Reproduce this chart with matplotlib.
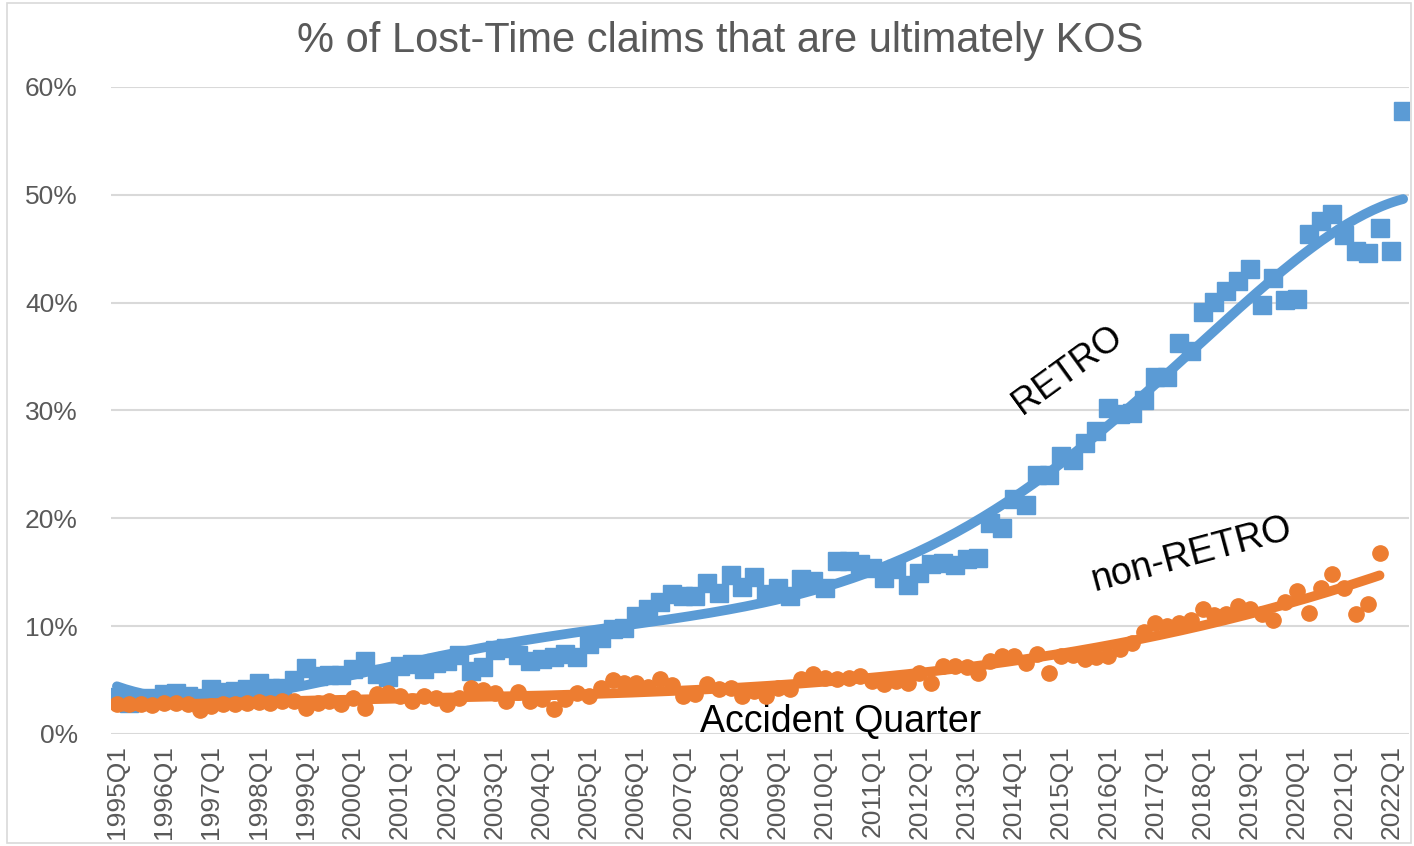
import numpy as np
import matplotlib
matplotlib.use("Agg")
import matplotlib.pyplot as plt
from matplotlib.patches import Rectangle
from numpy.polynomial import Polynomial

plt.rcParams['font.family'] = ['Liberation Sans', 'DejaVu Sans']

# quarters 1995Q1 .. 2022Q2
quarters = [f"{y}Q{q}" for y in range(1995, 2023) for q in range(1, 5)][:110]

retro = [3.4, 2.9, 3.1, 3.3, 3.7, 3.8, 3.5, 3.3, 4.2, 3.9, 4.0, 4.2, 4.7, 4.3, 4.3, 5.0,
         6.1, 5.4, 5.5, 5.5, 6.0, 6.8, 5.6, 5.3, 6.3, 6.5, 6.0, 6.6, 6.8, 7.3, 5.8, 6.2,
         7.8, 8.0, 7.3, 6.8, 7.0, 7.1, 7.4, 7.1, 8.3, 8.9, 9.7, 9.8, 10.9, 11.6, 12.2, 13.0,
         12.8, 12.8, 14.0, 13.1, 14.7, 13.6, 14.6, 13.0, 13.5, 12.8, 14.4, 14.2, 13.5, 16.0,
         16.0, 15.8, 15.4, 14.5, 15.3, 13.8, 14.9, 15.8, 15.9, 15.7, 16.2, 16.3, 19.6, 19.1,
         21.8, 21.2, 24.0, 24.0, 25.8, 25.4, 27.0, 28.1, 30.2, 29.7, 29.8, 31.0, 33.1, 33.1,
         36.3, 35.5, 39.1, 40.1, 41.1, 42.0, 43.1, 39.8, 42.3, 40.2, 40.3, 46.4, 47.6, 48.2,
         46.3, 44.8, 44.6, 46.9, 44.8, 57.8]

non_retro = [2.8, 2.8, 2.8, 2.7, 2.9, 2.9, 2.8, 2.2, 2.6, 2.8, 2.8, 2.9, 3.0, 2.9, 3.1, 3.1,
             2.4, 2.9, 3.1, 2.8, 3.3, 2.4, 3.7, 3.8, 3.5, 3.1, 3.5, 3.3, 2.8, 3.3, 4.3, 4.1,
             3.8, 3.1, 3.9, 3.1, 3.2, 2.3, 3.2, 3.8, 3.5, 4.3, 5.0, 4.7, 4.7, 4.4, 5.1, 4.5,
             3.5, 3.7, 4.6, 4.2, 4.3, 3.5, 4.0, 3.5, 4.3, 4.2, 5.1, 5.6, 5.2, 5.1, 5.2, 5.4,
             4.9, 4.6, 4.9, 4.7, 5.7, 4.7, 6.3, 6.3, 6.2, 5.7, 6.8, 7.2, 7.2, 6.6, 7.4, 5.7,
             7.2, 7.3, 7.0, 7.1, 7.2, 7.9, 8.4, 9.5, 10.3, 10.0, 10.3, 10.6, 11.6, 11.0, 11.1, 11.9,
             11.6, 11.1, 10.6, 12.2, 13.3, 11.2, 13.5, 14.8, 13.5, 11.1, 12.1, 16.8]

blue = '#5B9BD5'
orange = '#ED7D31'
grey = '#595959'

xr = np.arange(len(retro))
xn = np.arange(len(non_retro))
yr = np.array(retro) / 100
yn = np.array(non_retro) / 100

# polynomial trendlines, like the spreadsheet ones
fr = Polynomial.fit(xr, yr, 5)
fn = Polynomial.fit(xn, yn, 3)
tr = np.linspace(0, xr[-1], 300)
tn = np.linspace(0, xn[-1], 300)

fig = plt.figure(figsize=(14.14, 8.46), dpi=100)
ax = fig.add_axes([0.0785, 0.1324, 0.918, 0.7648])

ax.plot(xr, yr, 's', color=blue, markersize=13, zorder=2)
ax.plot(tr, fr(tr), color=blue, lw=7, solid_capstyle='round', zorder=3)
ax.plot(xn, yn, 'o', color=orange, markersize=11, zorder=4)
ax.plot(tn, fn(tn), color=orange, lw=7, solid_capstyle='round', zorder=5)

ax.set_xlim(-0.5, len(quarters) - 0.5)
ax.set_ylim(0, 0.6)
ax.set_yticks(np.arange(0, 0.61, 0.1))
ax.set_yticklabels([f"{int(round(v * 100))}%" for v in np.arange(0, 0.61, 0.1)])
ax.set_xticks(np.arange(0, len(quarters), 4))
ax.set_xticklabels(quarters[::4], rotation=90, va='top', ha='center')
ax.tick_params(axis='y', length=0, pad=24, labelsize=19, labelcolor=grey)
ax.tick_params(axis='x', length=0, pad=8, labelsize=19, labelcolor=grey)
ax.grid(axis='y', color='#D9D9D9', lw=1.5, zorder=0)
ax.set_axisbelow(True)
for s in ax.spines.values():
    s.set_visible(False)

fig.text(0.509, 0.952, "% of Lost-Time claims that are ultimately KOS",
         ha='center', va='center', fontsize=30, color=grey)
ax.text(61.3, 0.011, "Accident Quarter", ha='center', va='center', fontsize=27, color='black')
ax.text(80.6, 0.337, "RETRO", rotation=36, ha='center', va='center', fontsize=26,
        rotation_mode='anchor', color='black')
ax.text(91.1, 0.166, "non-RETRO", rotation=15, ha='center', va='center', fontsize=27,
        rotation_mode='anchor', color='black')

fig.patches.append(Rectangle((0.005, 0.003), 0.993, 0.994, transform=fig.transFigure,
                             fill=False, edgecolor='#D9D9D9', lw=1.2))

fig.savefig("out.png", dpi=100)
